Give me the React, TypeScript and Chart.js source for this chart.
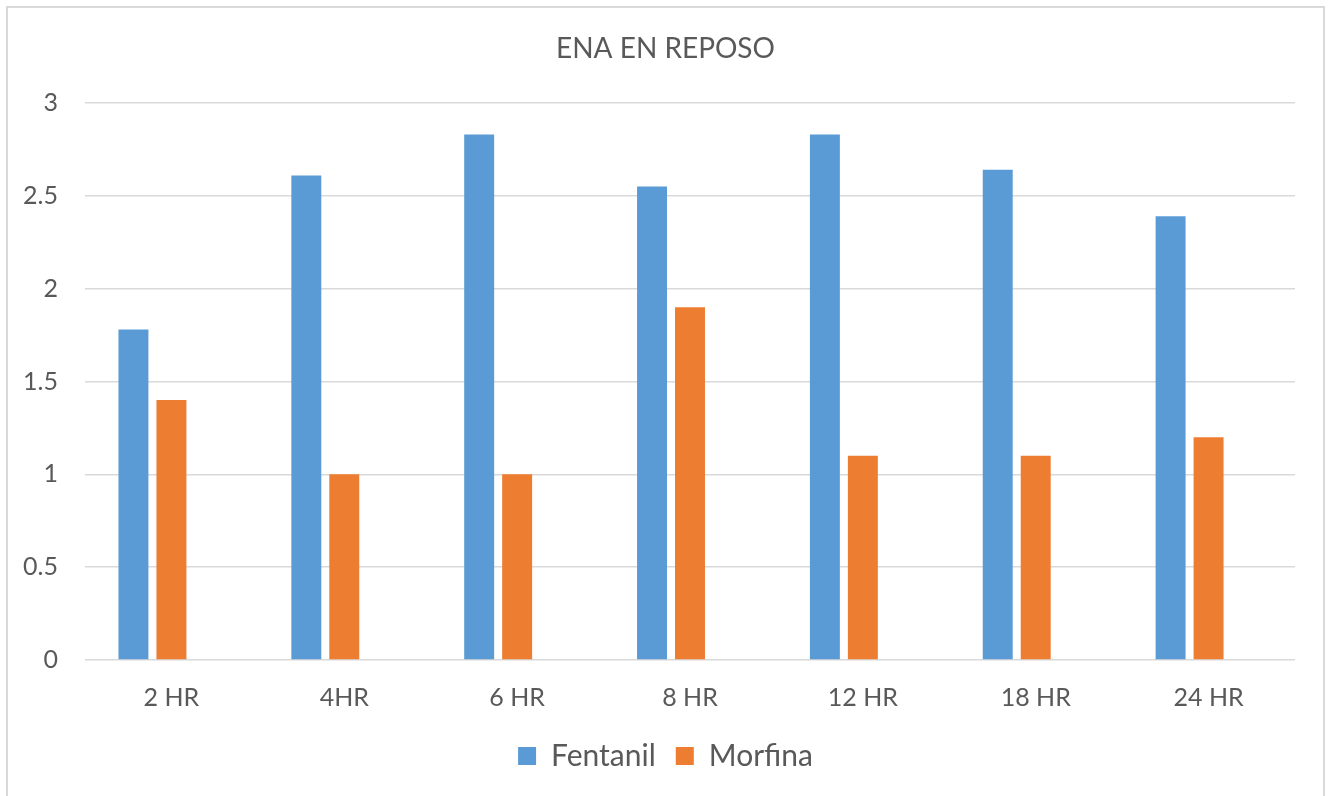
import React, { useEffect, useRef } from "react";
import { Chart, registerables } from "chart.js";

Chart.register(...registerables);

const categories = ["2 HR", "4HR", "6 HR", "8 HR", "12 HR", "18 HR", "24 HR"];
const fentanil = [1.78, 2.61, 2.83, 2.55, 2.83, 2.64, 2.39];
const morfina = [1.4, 1.0, 1.0, 1.9, 1.1, 1.1, 1.2];
const emptySeries = [null, null, null, null, null, null, null];
const yTicks = [0, 0.5, 1, 1.5, 2, 2.5, 3];

const TEXT = "#595959";
const GRID = "#D9D9D9";
const FONT = "Lato";

export default function App() {
  const ref = useRef<HTMLCanvasElement>(null);

  useEffect(() => {
    if (!ref.current) return;
    const chart = new Chart(ref.current, {
      type: "bar",
      data: {
        labels: categories,
        datasets: [
          { label: "Fentanil", data: fentanil, backgroundColor: "#5B9BD5", yAxisID: "y" },
          { label: "Morfina", data: morfina, backgroundColor: "#ED7D31", yAxisID: "y" },
          { label: "", data: emptySeries as any, backgroundColor: "rgba(0,0,0,0)", yAxisID: "y" },
        ],
      },
      options: {
        animation: false,
        responsive: false,
        maintainAspectRatio: false,
        layout: { padding: { left: 0, right: 0, top: 0, bottom: 15 } },
        datasets: {
          bar: { categoryPercentage: 0.659, barPercentage: 0.789 },
        },
        plugins: {
          title: {
            display: true,
            text: "ENA EN REPOSO",
            color: TEXT,
            font: { family: FONT, size: 28, weight: "normal" },
            padding: { top: 24, bottom: 37.4 },
          },
          legend: {
            display: true,
            position: "bottom",
            labels: {
              color: TEXT,
              font: { family: FONT, size: 30 },
              boxWidth: 18,
              boxHeight: 18,
              padding: 20,
              filter: (item: any) => item.datasetIndex < 2,
            },
          },
          tooltip: { enabled: false },
        },
        scales: {
          x: {
            grid: { display: false },
            border: { display: false },
            ticks: {
              color: TEXT,
              font: { family: FONT, size: 25 },
              padding: 15,
              maxRotation: 0,
            },
            afterFit: (s: any) => {
              s.height = 61;
            },
          },
          y: {
            position: "left",
            min: 0,
            max: 3,
            afterBuildTicks: (s: any) => {
              s.ticks = yTicks.map((v) => ({ value: v }));
            },
            grid: { color: GRID, lineWidth: 1.5, drawTicks: false },
            border: { display: false },
            ticks: {
              color: TEXT,
              font: { family: FONT, size: 25 },
              padding: 27,
              callback: (v: any) => String(v),
            },
            afterFit: (s: any) => {
              s.width = 77;
            },
          },
          yR: {
            type: "linear",
            position: "right",
            display: true,
            min: 0,
            max: 3,
            grid: { display: false },
            border: { display: false },
            ticks: { display: false },
            afterFit: (s: any) => {
              s.width = 28;
            },
          },
        },
      } as any,
    });
    return () => chart.destroy();
  }, []);

  return (
    <div
      style={{
        position: "absolute",
        left: 6,
        top: 6,
        width: 1319,
        height: 790,
        boxSizing: "border-box",
        borderTop: "2px solid #D9D9D9",
        borderLeft: "2px solid #D9D9D9",
        borderRight: "2px solid #D9D9D9",
        background: "#fff",
      }}
    >
      <canvas ref={ref} width={1315} height={788} style={{ display: "block", width: 1315, height: 788 }} />
    </div>
  );
}
